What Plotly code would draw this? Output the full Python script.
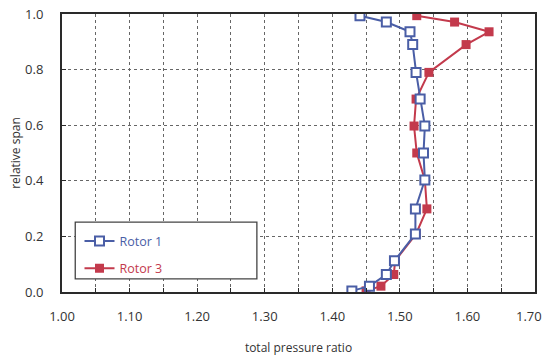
import plotly.graph_objects as go

span_r1 = [0.994, 0.971, 0.936, 0.890, 0.790, 0.694, 0.597, 0.500, 0.403, 0.299, 0.209, 0.112, 0.063, 0.021, 0.004]
ratio_r1 = [1.441, 1.480, 1.515, 1.519, 1.524, 1.530, 1.537, 1.535, 1.537, 1.523, 1.523, 1.492, 1.480, 1.455, 1.429]

span_r3 = [0.994, 0.971, 0.936, 0.890, 0.790, 0.694, 0.597, 0.500, 0.403, 0.299, 0.209, 0.112, 0.063, 0.021, 0.004]
ratio_r3 = [1.525, 1.581, 1.632, 1.598, 1.543, 1.524, 1.521, 1.525, 1.537, 1.540, 1.524, 1.493, 1.491, 1.472, 1.450]

x_ticks = [1.0, 1.1, 1.2, 1.3, 1.4, 1.5, 1.6, 1.7]
x_ticklabels = ["1.00", "1.10", "1.20", "1.30", "1.40", "1.50", "1.60", "1.70"]
y_ticks = [0.0, 0.2, 0.4, 0.6, 0.8, 1.0]
y_ticklabels = ["0.0", "0.2", "0.4", "0.6", "0.8", "1.0"]

BLUE = "#4a5ea6"
RED = "#c33a4c"
FONT = "Open Sans"
TICKFONT = dict(family=FONT, size=13, color="#333")

fig = go.Figure()
fig.add_trace(go.Scatter(
    x=ratio_r3, y=span_r3,
    name=f"<span style='color:{RED}'>Rotor 3</span>", mode="lines+markers",
    line=dict(color=RED, width=2),
    marker=dict(symbol="square", size=9, color=RED, line=dict(width=0)),
    legendrank=2, legendgroup="r3",
))
fig.add_trace(go.Scatter(
    x=ratio_r1, y=span_r1,
    name=f"<span style='color:{BLUE}'>Rotor 1</span>", mode="lines+markers",
    line=dict(color=BLUE, width=2),
    marker=dict(symbol="square", size=9, color="white", line=dict(color=BLUE, width=2)),
    legendrank=1, legendgroup="r1",
))

# legend box
fig.add_shape(type="rect", xref="paper", yref="paper",
              x0=0.028, x1=0.412, y0=0.047, y1=0.2516,
              line=dict(color="#444", width=1.3), fillcolor="white", layer="above")

# last x tick label kept inside the page (right-aligned to the page edge)
fig.add_annotation(x=x_ticks[-1], y=0, xref="x", yref="paper", text=x_ticklabels[-1],
                   showarrow=False, xanchor="right", yanchor="top", xshift=9, yshift=-13,
                   font=TICKFONT)

axis_common = dict(showline=True, linecolor="#2a2a2a", linewidth=2, mirror=True,
                   zeroline=False, ticks="inside", ticklen=4, tickcolor="#2a2a2a",
                   tickfont=TICKFONT,
                   gridcolor="#666", griddash="dot", gridwidth=1, automargin=False)

fig.update_layout(
    width=543, height=356,
    margin=dict(l=62, r=8, t=13.5, b=63.5),
    plot_bgcolor="white", paper_bgcolor="white",
    font=dict(family=FONT, size=12, color="#333"),
    showlegend=True,
    legend=dict(x=0.037, y=0.236, xanchor="left", yanchor="top",
                bgcolor="rgba(0,0,0,0)", borderwidth=0,
                traceorder="grouped", tracegroupgap=8,
                font=dict(family=FONT, size=12.5)),
    xaxis=dict(range=[1.0, 1.7], tickvals=x_ticks[:-1], ticktext=x_ticklabels[:-1],
               ticklabelstandoff=11,
               minor=dict(dtick=0.05, showgrid=True, gridcolor="#666", griddash="dot",
                          ticks="inside", ticklen=4, tickcolor="#2a2a2a"),
               title=dict(text="total pressure ratio", standoff=41,
                          font=dict(family=FONT, size=12, color="#333")),
               **axis_common),
    yaxis=dict(range=[0.0, 1.0], tickvals=y_ticks, ticktext=y_ticklabels,
               ticklabelstandoff=14,
               title=dict(text="relative span", standoff=2,
                          font=dict(family=FONT, size=12, color="#333")),
               **axis_common),
)

fig.write_html("out.html")
